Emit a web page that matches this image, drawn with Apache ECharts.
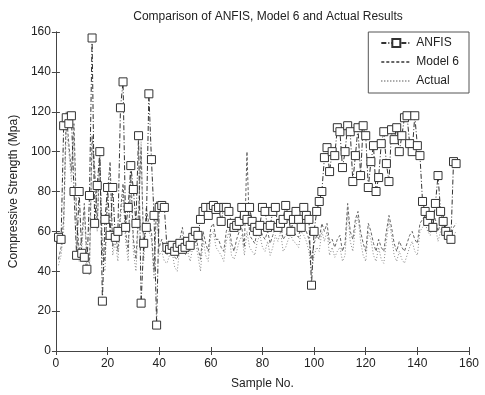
<!DOCTYPE html>
<html><head><meta charset="utf-8">
<script src="https://cdn.jsdelivr.net/npm/echarts@6/dist/echarts.min.js"></script>
<style>html,body{margin:0;padding:0;background:#fff}#c{width:485px;height:395px}</style>
</head><body><div id="c"></div>
<script>
var xTicks = [0, 20, 40, 60, 80, 100, 120, 140, 160];
var yTicks = [0, 20, 40, 60, 80, 100, 120, 140, 160];
var seriesNames = ["ANFIS", "Model 6", "Actual"];
var anfis = [57,56,113,117,114,118,80,48,80,49,47,41,78,157,64,83,100,25,66,82,
58,82,57,60,122,135,62,72,93,81,64,108,24,54,62,129,96,68,13,72,
73,72,52,51,53,50,52,54,51,52,55,53,57,60,58,66,70,72,68,72,
73,71,72,65,72,72,70,64,62,63,65,72,68,66,72,65,62,60,63,72,
70,62,63,70,72,62,64,66,73,68,60,66,70,66,62,72,68,66,33,60,
70,75,80,97,102,90,100,98,112,110,92,100,113,110,85,98,112,88,113,108,
82,95,103,80,87,104,110,94,85,111,106,112,100,108,117,118,104,100,118,103,
98,75,70,65,68,62,74,88,70,65,60,58,56,95,94];
var model6 = [46,52,66,120,104,90,114,68,50,56,74,47,44,108,92,64,96,50,45,80,
95,52,60,50,70,84,60,50,90,56,46,70,102,50,72,64,60,40,75,52,
56,50,48,52,55,47,46,56,62,52,55,50,56,60,52,46,60,54,50,62,
64,56,56,52,50,60,64,54,50,56,60,62,52,100,58,56,54,60,62,58,
56,60,54,58,62,60,64,56,58,60,62,60,58,57,64,62,60,56,46,54,
58,56,64,60,64,54,56,52,56,58,50,54,74,60,56,66,70,60,54,50,
64,60,54,50,56,52,50,60,68,62,54,50,55,52,50,54,58,60,56,54,
64,66,68,64,62,70,66,60,64,68,62,60,58,62,64];
var actual = [43,48,60,112,100,85,108,62,45,50,70,42,38,102,88,60,100,45,40,77,
92,48,55,45,66,80,55,45,87,50,40,65,105,45,68,60,56,36,72,48,
50,45,44,48,50,42,40,52,58,48,50,45,52,55,48,40,56,48,45,58,
60,52,50,48,45,55,60,48,46,50,55,58,48,60,52,50,48,55,58,52,
50,55,48,52,58,55,60,50,52,56,58,55,54,52,60,58,55,50,40,48,
52,50,60,55,60,48,52,47,50,52,45,48,70,55,50,62,68,55,48,45,
60,56,48,45,52,46,44,55,65,58,48,45,50,46,44,48,52,55,50,48,
60,62,64,60,58,66,62,55,60,64,58,56,55,58,60];

function pairs(arr){ return arr.map(function(v,i){ return [i+1, v]; }); }

var font = "Liberation Sans, Arial, sans-serif";
var chart = echarts.init(document.getElementById('c'), null, {renderer:'canvas'});
var axisCommon = {
  type:'value', min:0, max:160, interval:20,
  axisLine:{show:true, lineStyle:{color:'#444', width:1}},
  axisTick:{show:true, inside:true, length:4, lineStyle:{color:'#444'}},
  splitLine:{show:false}
};
chart.setOption({
  animation:false,
  backgroundColor:'#fff',
  title:{text:'Comparison of ANFIS, Model 6 and Actual Results', left:263, textAlign:'center', top:6,
    textStyle:{fontFamily:font, fontSize:12, fontWeight:'normal', color:'#222'}},
  grid:{left:53, right:16, top:32, bottom:38, containLabel:false},
  legend:{
    data:[{name:'ANFIS'}, {name:'Model 6', itemStyle:{opacity:0}}, {name:'Actual', itemStyle:{opacity:0}}],
    orient:'vertical', right:16, top:32,
    backgroundColor:'#fff', borderColor:'#555', borderWidth:1, borderRadius:0,
    padding:[5,10,6,12], itemGap:7, itemWidth:30, itemHeight:10,
    textStyle:{fontFamily:font, fontSize:12, color:'#222'}
  },
  xAxis:[
    Object.assign({}, axisCommon, {position:'bottom', name:'Sample No.', nameLocation:'middle', nameGap:27,
      nameTextStyle:{fontFamily:font, fontSize:12, color:'#222'},
      axisLabel:{fontFamily:font, fontSize:12, color:'#222', margin:7,
        formatter:function(v){ return xTicks.indexOf(v)>=0 ? String(v) : ''; }}}),
    Object.assign({}, axisCommon, {position:'top', axisLabel:{show:false}})
  ],
  yAxis:[
    Object.assign({}, axisCommon, {position:'left', name:'Compressive Strength (Mpa)', nameLocation:'middle', nameGap:30,
      nameTextStyle:{fontFamily:font, fontSize:12, color:'#222'},
      axisLabel:{fontFamily:font, fontSize:12, color:'#222', margin:5,
        formatter:function(v){ return yTicks.indexOf(v)>=0 ? String(v) : ''; }}}),
    Object.assign({}, axisCommon, {position:'right', axisLabel:{show:false}})
  ],
  series:[
    {name:'Actual', type:'line', data:pairs(actual), symbol:'none', z:2,
     lineStyle:{color:'#888', width:1, type:[1,2]}, itemStyle:{color:'#888'}},
    {name:'Model 6', type:'line', data:pairs(model6), symbol:'none', z:3,
     lineStyle:{color:'#666', width:1, type:[3,2]}, itemStyle:{color:'#666'}},
    {name:'ANFIS', type:'line', data:pairs(anfis), symbol:'rect', symbolSize:8, z:4,
     lineStyle:{color:'#333', width:1, type:[5,2,1,2]},
     itemStyle:{color:'#fff', borderColor:'#333', borderWidth:1}}
  ]
});
</script></body></html>
